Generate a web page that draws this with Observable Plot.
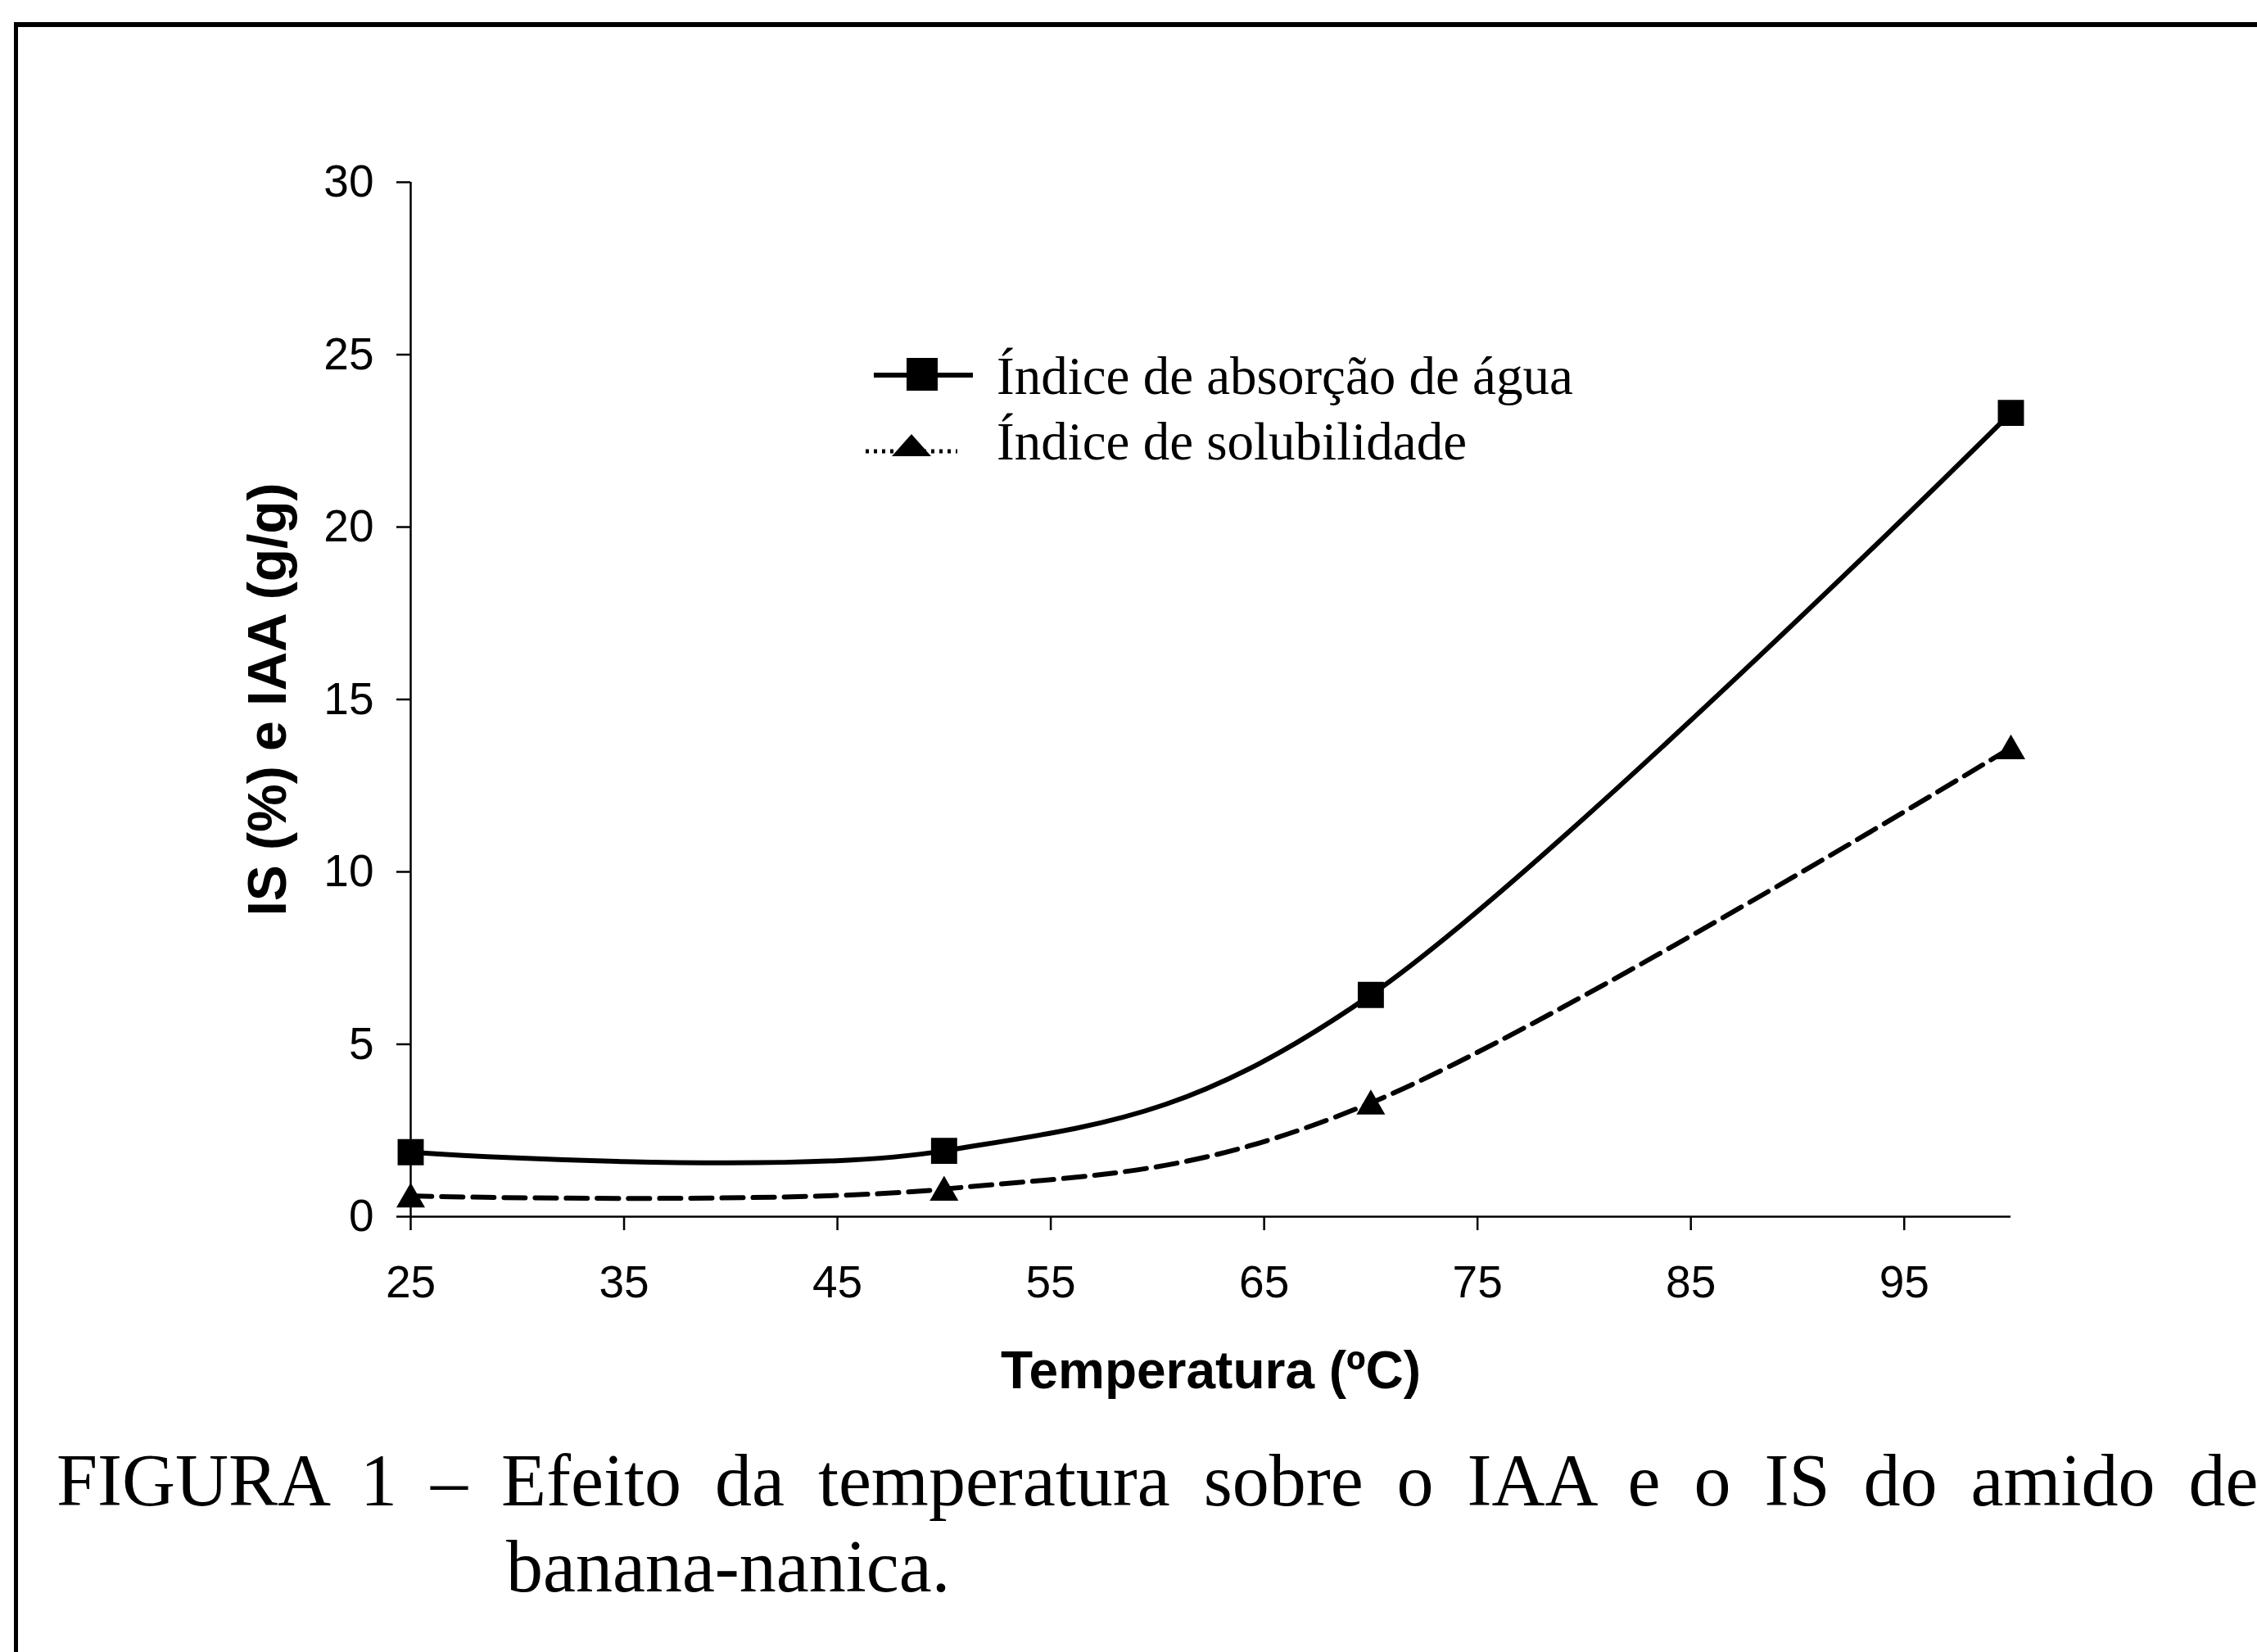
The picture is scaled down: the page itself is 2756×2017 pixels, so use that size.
<!DOCTYPE html>
<html>
<head>
<meta charset="utf-8">
<script src="https://cdn.jsdelivr.net/npm/d3@7"></script>
<script src="https://cdn.jsdelivr.net/npm/@observablehq/plot@0.6"></script>
<style>
  html, body { margin: 0; padding: 0; background: #fff; overflow: hidden; }
  #page { position: relative; width: 2756px; height: 2017px; overflow: hidden; background: #fff; }
  #frame { position: absolute; left: 17px; top: 27px; width: 2800px; height: 2100px;
           border-top: 6px solid #000; border-left: 5px solid #000; }
  #chart { position: absolute; left: 0; top: 0; }
  .legend-text { position: absolute; font-family: "Liberation Serif", "Times New Roman", serif;
                 font-size: 65px; line-height: 64px; white-space: nowrap; color: #000; }
  .caption { position: absolute; font-family: "Liberation Serif", "Times New Roman", serif;
             font-size: 90px; line-height: 90px; white-space: nowrap; color: #000; word-spacing: 18.5px; }
  #legendSym { position: absolute; left: 1040px; top: 420px; }
</style>
</head>
<body>
<div id="page">
  <div id="frame"></div>
  <div id="chart"></div>
  <svg id="legendSym" width="170" height="150"></svg>
  <div class="legend-text" id="leg1" style="left:1217px; top:427px;"></div>
  <div class="legend-text" id="leg2" style="left:1217px; top:507px;"></div>
  <div class="caption" id="cap1" style="left:69px; top:1763px;"></div>
  <div class="caption" id="cap2" style="left:618px; top:1868px;"></div>
</div>
<script>
// ---- data ----
const temperatura = [25, 50, 70, 100];
const iaa = [1.87, 1.91, 6.43, 23.31];   // Índice de absorção de água (g/g)
const is = [0.6, 0.8, 3.3, 13.6];        // Índice de solubilidade (%)
const xTicks = [25, 35, 45, 55, 65, 75, 85, 95];
const yTicks = [0, 5, 10, 15, 20, 25, 30];
const xDomain = [25, 100];
const yDomain = [0, 30];
const xLabel = "Temperatura (ºC)";
const yLabel = "IS (%) e IAA (g/g)";
const seriesNames = ["Índice de absorção de água", "Índice de solubilidade"];
const caption1 = "FIGURA 1 – Efeito da temperatura sobre o IAA e o IS do amido de";
const caption2 = "banana-nanica.";

const dataIAA = temperatura.map((t, i) => ({t, v: iaa[i]}));
const dataIS = temperatura.map((t, i) => ({t, v: is[i]}));

const chart = Plot.plot({
  width: 2756,
  height: 1720,
  marginLeft: 501,
  marginRight: 301,
  marginTop: 222,
  marginBottom: 235,
  style: {fontFamily: "'Liberation Sans', Arial, sans-serif", fontSize: "55px", color: "black", background: "transparent", overflow: "visible"},
  x: {domain: xDomain},
  y: {domain: yDomain},
  marks: [
    Plot.axisY({ticks: yTicks, tickSize: 17, tickPadding: 28, strokeWidth: 2.5, stroke: "black",
                label: yLabel, labelAnchor: "center", labelOffset: 199, labelArrow: "none"}),
    Plot.axisX({ticks: xTicks, tickSize: 17, tickPadding: 42, strokeWidth: 2.5, stroke: "black",
                label: xLabel, labelAnchor: "center", labelOffset: 209, labelArrow: "none"}),
    Plot.ruleX([xDomain[0]], {stroke: "black", strokeWidth: 2.5}),
    Plot.ruleY([yDomain[0]], {stroke: "black", strokeWidth: 2.5}),
    Plot.line(dataIS, {x: "t", y: "v", curve: "cardinal", stroke: "black", strokeWidth: 6, strokeDasharray: "26,12"}),
    Plot.line(dataIAA, {x: "t", y: "v", curve: "cardinal", stroke: "black", strokeWidth: 6}),
    Plot.dot(dataIAA, {x: "t", y: "v", symbol: "square", r: 18, fill: "black", stroke: "none"}),
    Plot.dot(dataIS, {x: "t", y: "v", symbol: "triangle", r: 13, fill: "black", stroke: "none", dy: 4})
  ]
});
document.getElementById("chart").appendChild(chart);

// bold axis titles
chart.querySelectorAll('g[aria-label="x-axis label"]').forEach(g => {
  g.setAttribute("font-size", "64");
  g.setAttribute("font-weight", "bold");
  g.querySelectorAll("text").forEach(t => { t.style.fontSize = "64px"; t.style.fontWeight = "bold"; });
});
chart.querySelectorAll('g[aria-label="y-axis label"]').forEach(g => {
  g.setAttribute("font-size", "66");
  g.setAttribute("font-weight", "bold");
  g.querySelectorAll("text").forEach(t => { t.style.fontSize = "66px"; t.style.fontWeight = "bold"; });
});

// legend
const ns = "http://www.w3.org/2000/svg";
const lg = document.getElementById("legendSym");
function el(name, attrs) {
  const e = document.createElementNS(ns, name);
  for (const k in attrs) e.setAttribute(k, attrs[k]);
  lg.appendChild(e);
}
el("line", {x1: 27, x2: 148, y1: 38, y2: 38, stroke: "black", "stroke-width": 6});
el("rect", {x: 67, y: 17, width: 38, height: 40, fill: "black"});
el("line", {x1: 17, x2: 129, y1: 131, y2: 131, stroke: "black", "stroke-width": 5, "stroke-dasharray": "4,6"});
el("polygon", {points: "73,110 49,137 97,137", fill: "black"});
document.getElementById("leg1").textContent = seriesNames[0];
document.getElementById("leg2").textContent = seriesNames[1];
document.getElementById("cap1").textContent = caption1;
document.getElementById("cap2").textContent = caption2;
</script>
</body>
</html>
